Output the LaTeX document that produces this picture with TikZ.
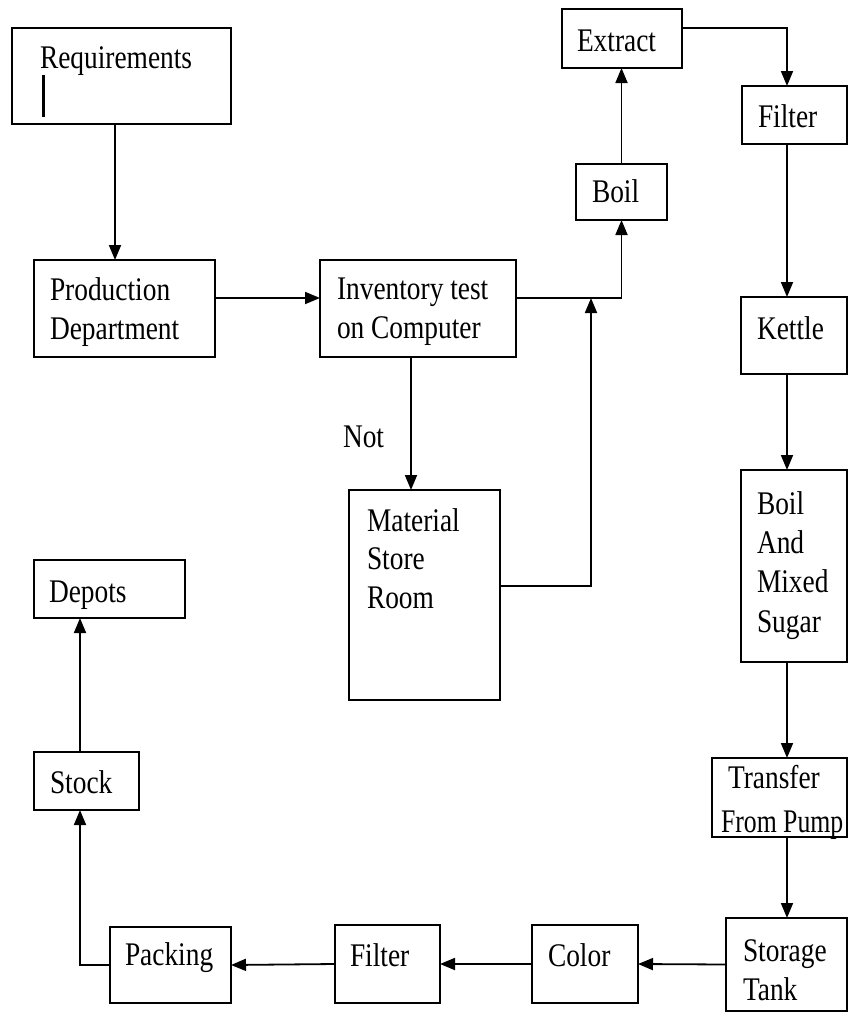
\documentclass[tikz,border=0pt]{standalone}
\usepackage{fontspec}
\setmainfont[FakeStretch=0.83]{Liberation Serif}
\usetikzlibrary{arrows.meta,calc}

\tikzset{
  blk/.style={draw=black, line width=2pt, inner sep=0pt, outer sep=0pt},
  lbl/.style={anchor=base west, inner sep=0pt, outer sep=0pt,
              font=\fontsize{33}{38.5}\selectfont, align=left},
  conn/.style={line width=1.8pt, -{Triangle[length=15pt,width=12pt]}},
}

% \drawblock{name}{x1}{y1}{x2}{y2}: an empty framed block between two corners
\newcommand\drawblock[5]{%
  \node[blk, minimum width={(#4-#2)*1pt}, minimum height={(#5-#3)*1pt}]
    (#1) at ({(#2+#4)/2},{(#3+#5)/2}) {};}

\begin{document}
\begin{tikzpicture}[x=1pt, y=-1pt]
  \useasboundingbox (0,0) rectangle (851,1015);

  % blocks
  \drawblock{req}{12}{28}{231}{124}
  \drawblock{prod}{34}{260}{215}{357}
  \drawblock{inv}{320}{260}{516}{357}
  \drawblock{mat}{349}{490}{500}{700}
  \drawblock{boil}{576}{164}{667}{220}
  \drawblock{ext}{562}{9}{682}{68}
  \drawblock{filt}{742}{86}{847}{144}
  \drawblock{kettle}{741}{297}{847}{374}
  \drawblock{bams}{741}{470}{847}{662}
  \drawblock{transfer}{712}{758}{847}{837}
  \drawblock{storage}{726}{918}{847}{1011}
  \drawblock{color}{532}{925}{638}{1003}
  \drawblock{filtb}{335}{925}{440}{1003}
  \drawblock{pack}{110}{927}{231}{1003}
  \drawblock{stock}{34}{752}{139}{810}
  \drawblock{depots}{34}{560}{185}{618}

  % labels (multi-line labels are placed by the baseline of their last line)
  \node[lbl] (t-req) at (40,68) {Requirements};
  \draw[line width=3pt] (43,75) -- (43,117);
  \node[lbl] (t-prod) at (50,339) {Production\\Department};
  \node[lbl] (t-inv) at (337,338) {Inventory test\\on Computer};
  \node[lbl] (t-not) at (343,447) {Not};
  \node[lbl] (t-mat) at (367,608) {Material\\Store\\Room};
  \node[lbl] (t-ext) at (577,51) {Extract};
  \node[lbl] (t-filt) at (758,127) {Filter};
  \node[lbl] (t-boil) at (592,202) {Boil};
  \node[lbl] (t-kettle) at (757,339) {Kettle};
  \node[lbl, font=\fontsize{33}{39.3}\selectfont] (t-bams) at (757,632) {Boil\\And\\Mixed\\Sugar};
  \node[lbl] (t-transfer) at (721,832) {\hspace*{7pt}Transfer\\[5.5pt]\scalebox{0.94}[1]{From Pump}};
  \node[lbl] (t-storage) at (743,1000) {Storage\\Tank};
  \node[lbl] (t-color) at (548,966) {Color};
  \node[lbl] (t-filtb) at (350,966) {Filter};
  \node[lbl] (t-pack) at (125,965) {Packing};
  \node[lbl] (t-stock) at (50,793) {Stock};
  \node[lbl] (t-depots) at (49,602) {Depots};

  % helper columns and junction
  \coordinate (rcol) at (787,0);
  \coordinate (lcol) at (80,0);
  \coordinate (join) at (591,298);

  % connectors
  \draw[conn] ([xshift=-6.5pt]req.south) -- ([xshift=-6.5pt]req.south |- prod.north);
  \draw[conn] ([yshift=10.5pt]prod.east) -- ([yshift=10.5pt]inv.west);
  \draw[conn] ([yshift=10.5pt]inv.east) -| (boil.south);
  \draw[conn] ([xshift=-7pt]inv.south) -- ([xshift=-7pt]inv.south |- mat.north);
  \draw[conn] ([yshift=9pt]mat.east) -| (join);
  \draw[conn] (boil.north) -- (boil.north |- ext.south);
  \draw[conn] ([yshift=10.5pt]ext.east) -| (rcol |- filt.north);
  \draw[conn] (rcol |- filt.south) -- (rcol |- kettle.north);
  \draw[conn] (rcol |- kettle.south) -- (rcol |- bams.north);
  \draw[conn] (rcol |- bams.south) -- (rcol |- transfer.north);
  \draw[conn] (rcol |- transfer.south) -- (rcol |- storage.north);
  \draw[conn] (storage.west) -- (color.east);
  \draw[conn] (color.west) -- (filtb.east);
  \draw[conn] (filtb.west) -- (pack.east);
  \draw[conn] (pack.west) -| (lcol |- stock.south);
  \draw[conn] (lcol |- stock.north) -- (lcol |- depots.south);
\end{tikzpicture}
\end{document}
